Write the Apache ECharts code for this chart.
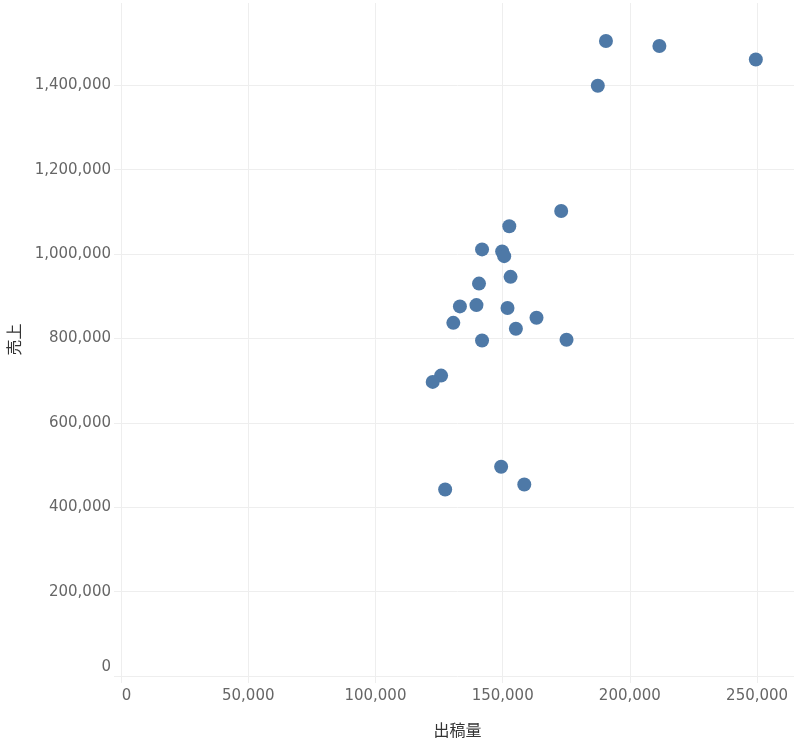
<!DOCTYPE html>
<html>
<head>
<meta charset="utf-8">
<script src="https://cdn.jsdelivr.net/npm/echarts@6/dist/echarts.min.js"></script>
<style>
  html, body { margin: 0; padding: 0; background: #fff; }
  #main { width: 800px; height: 745px; }
</style>
</head>
<body>
<div id="main"></div>
<script>
// 出稿量 (x) と 売上 (y)
const adVolume = [
  190600, 211600, 249500, 187400, 173000, 152600, 141900, 149800,
  150600, 153100, 140700, 133200, 139700, 151900, 130600, 163300,
  155200, 141900, 175100, 125800, 122500, 149400, 158500, 127400
];
const sales = [
  1505000, 1493000, 1461000, 1399000, 1102000, 1066000, 1011000, 1006000,
  995000, 946000, 930000, 876000, 879000, 872000, 837000, 849000,
  823000, 795000, 797000, 712000, 697000, 496000, 454000, 442000
];
const xTicks = [0, 50000, 100000, 150000, 200000, 250000];
const yTicks = [0, 200000, 400000, 600000, 800000, 1000000, 1200000, 1400000];

const gridColor = '#eeeeee';
const labelColor = '#666666';
const fmt = v => v.toLocaleString('en-US');

const chart = echarts.init(document.getElementById('main'));

const option = {
  animation: false,
  grid: {
    left: 121,
    right: 6,
    top: 3,
    bottom: 69,
    containLabel: false,
    outerBoundsMode: 'none'
  },
  xAxis: {
    type: 'value',
    min: 0,
    max: 264500,
    interval: xTicks[1] - xTicks[0],
    name: '出稿量',
    nameLocation: 'middle',
    nameGap: 46,
    nameTextStyle: {
      fontFamily: 'Noto Sans CJK JP',
      fontSize: 16,
      color: '#333333'
    },
    axisLine: { show: false },
    axisTick: { show: true, length: 7, lineStyle: { color: gridColor } },
    splitLine: { show: true, showMaxLine: false, lineStyle: { color: gridColor, width: 1 } },
    axisLabel: {
      showMaxLabel: false,
      margin: 13,
      fontFamily: 'DejaVu Sans',
      fontSize: 15,
      color: labelColor,
      formatter: v => v === 0 ? '{z|0}' : fmt(v),
      rich: {
        z: { padding: [0, 0, 0, 11], fontFamily: 'DejaVu Sans', fontSize: 15, color: labelColor }
      }
    }
  },
  yAxis: {
    type: 'value',
    min: 0,
    max: 1595000,
    interval: yTicks[1] - yTicks[0],
    name: '売上',
    nameLocation: 'middle',
    nameGap: 99,
    nameTextStyle: {
      fontFamily: 'Noto Sans CJK JP',
      fontSize: 16,
      color: '#333333'
    },
    axisLine: { show: false },
    axisTick: { show: true, length: 7, lineStyle: { color: gridColor } },
    splitLine: { show: true, showMaxLine: false, lineStyle: { color: gridColor, width: 1 } },
    axisLabel: {
      showMaxLabel: false,
      margin: 10,
      fontFamily: 'DejaVu Sans',
      fontSize: 15,
      color: labelColor,
      formatter: v => v === 0 ? '{z|0}' : fmt(v),
      rich: {
        z: { padding: [0, 0, 18, 0], fontFamily: 'DejaVu Sans', fontSize: 15, color: labelColor }
      }
    }
  },
  series: [
    {
      type: 'scatter',
      symbolSize: 14,
      itemStyle: { color: '#4e79a7', opacity: 1 },
      data: adVolume.map((x, i) => [x, sales[i]])
    }
  ]
};

chart.setOption(option);
</script>
</body>
</html>
